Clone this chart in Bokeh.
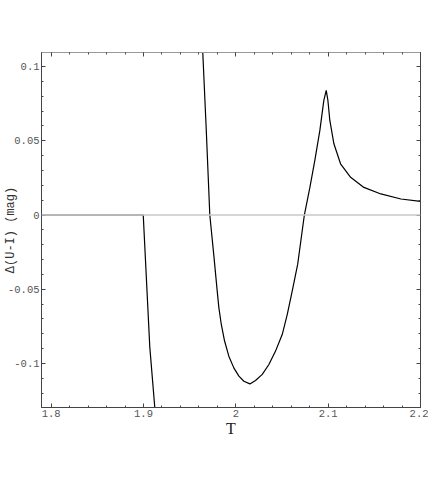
import numpy as np
from bokeh.plotting import figure
from bokeh.models import LinearAxis, FixedTicker, Span, Range1d
from bokeh.embed import file_html
from bokeh.resources import INLINE

# ---- data ----
x_ticks = [1.8, 1.9, 2.0, 2.1, 2.2]
x_tick_labels = ["1.8", "1.9", "2", "2.1", "2.2"]
y_ticks = [-0.1, -0.05, 0.0, 0.05, 0.1]
y_tick_labels = ["-0.1", "-0.05", "0", "0.05", "0.1"]

# first branch: flat at zero, then plunging down
t_branch1 = [1.7895, 1.8997, 1.9068, 1.9122]
d_branch1 = [0.0, 0.0, -0.089, -0.1297]

# second branch: comes down from the top, minimum, cusp peak, decay
t_branch2 = [1.9640, 1.9679, 1.9718, 1.9762, 1.9798, 1.9816, 1.9842, 1.9878,
             1.9924, 1.9978, 2.0033, 2.0087, 2.0152, 2.0213, 2.0286, 2.0358,
             2.0430, 2.0503, 2.0557, 2.0611, 2.0670, 2.0742, 2.0802, 2.0855,
             2.0910, 2.0953, 2.0979, 2.0997, 2.1018, 2.1062, 2.1134, 2.1243,
             2.1387, 2.1571, 2.1788, 2.2000]
d_branch2 = [0.1120, 0.0581, 0.0000, -0.0275, -0.0511, -0.0624, -0.0736, -0.0849,
             -0.0951, -0.1030, -0.1086, -0.1120, -0.1138, -0.1115, -0.1074, -0.1007,
             -0.0917, -0.0804, -0.0669, -0.0511, -0.0331, 0.0000, 0.0186, 0.0367,
             0.0570, 0.0772, 0.0840, 0.0772, 0.0637, 0.0480, 0.0345, 0.0254,
             0.0186, 0.0142, 0.0108, 0.0092]

x_lo, x_hi = 1.7895, 2.2
y_lo, y_hi = -0.1297, 0.1095

p = figure(width=428, height=458,
           x_range=Range1d(x_lo, x_hi), y_range=Range1d(y_lo, y_hi),
           output_backend="svg", toolbar_location=None,
           min_border_left=41, min_border_right=8,
           min_border_top=52, min_border_bottom=51)
p.xgrid.visible = False
p.ygrid.visible = False
p.outline_line_color = "#555555"
p.outline_line_width = 1
p.background_fill_color = "white"
p.border_fill_color = "white"

x_minor = list(np.round(np.arange(1.78, 2.2001, 0.02), 4))
y_minor = list(np.round(np.arange(-0.13, 0.1101, 0.01), 4))
xt = FixedTicker(ticks=x_ticks, minor_ticks=x_minor)
yt = FixedTicker(ticks=y_ticks, minor_ticks=y_minor)

TICK_FONT = "Liberation Mono"

def style_axis(ax, show_labels):
    ax.axis_line_color = "#444444"
    ax.major_tick_in = 4
    ax.major_tick_out = 0
    ax.minor_tick_in = 2
    ax.minor_tick_out = 0
    ax.major_tick_line_color = "#444444"
    ax.minor_tick_line_color = "#444444"
    ax.major_label_text_font = TICK_FONT
    ax.major_label_text_color = "#555555"
    if show_labels:
        ax.major_label_text_font_size = "10.5px"
        ax.major_label_standoff = 2
    else:
        ax.major_label_text_font_size = "0px"
        ax.major_label_text_alpha = 0
        ax.major_label_standoff = 0

xa = p.xaxis[0]
xa.ticker = xt
xa.major_label_overrides = {v: s for v, s in zip(x_ticks, x_tick_labels)}
style_axis(xa, True)
xa.axis_label = "T"
xa.axis_label_text_font = "Liberation Serif"
xa.axis_label_text_font_style = "normal"
xa.axis_label_text_font_size = "16px"
xa.axis_label_text_color = "#222222"
xa.axis_label_standoff = 0

ya = p.yaxis[0]
ya.ticker = yt
ya.major_label_overrides = {v: s for v, s in zip(y_ticks, y_tick_labels)}
style_axis(ya, True)
ya.axis_label = "Δ(U-I) (mag)"
ya.axis_label_text_font = TICK_FONT
ya.axis_label_text_font_style = "normal"
ya.axis_label_text_font_size = "12px"
ya.axis_label_text_color = "#333333"
ya.axis_label_standoff = -13

top = LinearAxis(ticker=FixedTicker(ticks=x_ticks, minor_ticks=x_minor))
style_axis(top, False)
top.axis_line_color = "#999999"
p.add_layout(top, "above")
right = LinearAxis(ticker=FixedTicker(ticks=y_ticks, minor_ticks=y_minor))
style_axis(right, False)
p.add_layout(right, "right")

# zero reference line
p.add_layout(Span(location=0, dimension="width", line_color="#c8c8c8", line_width=1.3))

p.line(t_branch1, d_branch1, line_color="black", line_width=1.2)
p.line(t_branch2, d_branch2, line_color="black", line_width=1.2)

open("out.html", "w").write(file_html(p, INLINE))
